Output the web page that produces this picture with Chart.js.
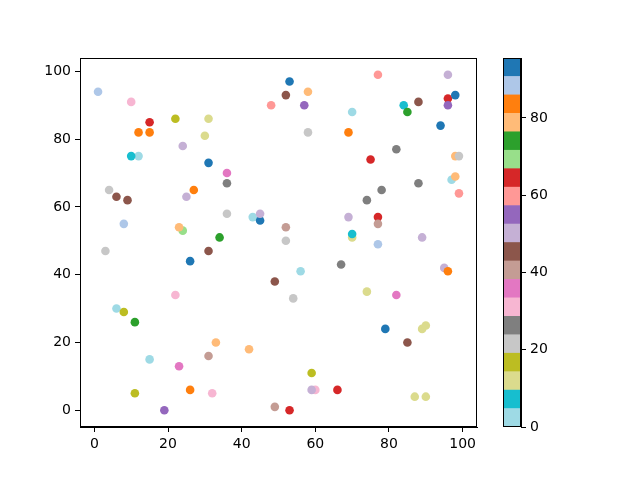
<!DOCTYPE html>
<html>
<head>
<meta charset="utf-8">
<script src="https://cdn.jsdelivr.net/npm/chart.js@4/dist/chart.umd.min.js"></script>
<style>
html,body{margin:0;padding:0;background:#fff;}
#wrap{position:relative;width:640px;height:480px;}
canvas{position:absolute;left:0;top:0;}
</style>
</head>
<body>
<div id="wrap">
<canvas id="main" width="640" height="480"></canvas>
<canvas id="cbar" width="640" height="480"></canvas>
</div>
<script>
const xValues = [1,10,15,12,15,22,31,30,24,12,10,31,53,58,52,48,57,58,36,36,77,96,96,98,96,88,84,85,70,94,69,82,75,98,99,97,98,88,4,6,9,27,25,8,24,23,3,31,26,22,6,8,36,43,45,45,52,52,34,56,49,54,67,78,74,99,69,77,77,70,70,77,89,95,96,74,82,11,15,23,31,33,11,26,32,19,42,59,60,59,66,49,53,79,89,90,85,87,90];
const yValues = [94,91,85,82,82,86,86,81,78,75,75,73,97,94,93,90,90,82,70,67,99,99,92,93,90,91,90,88,88,84,82,77,74,75,75,68,69,67,65,63,62,65,63,55,53,54,47,47,44,34,30,29,58,57,56,58,54,50,51,41,38,33,43,65,62,64,57,57,55,51,52,49,51,42,41,35,34,26,15,13,16,20,5,6,5,0,18,11,6,6,6,1,0,24,24,25,20,4,4];
const colorValues = [88,31,64,84,84,16,12,12,50,2,7,93,93,79,45,60,55,21,36,26,60,50,64,93,55,45,7,74,2,93,84,26,64,79,21,2,79,26,21,45,45,84,50,88,69,79,21,45,93,31,2,16,21,2,93,50,40,21,74,2,45,21,26,26,26,60,50,64,40,12,7,88,50,50,84,12,36,74,2,36,40,79,16,84,31,55,79,16,31,50,64,40,64,93,12,12,45,12,12];
const xTicks = [0,20,40,60,80,100];
const yTicks = [0,20,40,60,80,100];
const colorTicks = [0,20,40,60,80];
const colorMin = 0, colorMax = 95.5;
const tab20r = ['#9edae5','#17becf','#dbdb8d','#bcbd22','#c7c7c7','#7f7f7f','#f7b6d2','#e377c2','#c49c94','#8c564b','#c5b0d5','#9467bd','#ff9896','#d62728','#98df8a','#2ca02c','#ffbb78','#ff7f0e','#aec7e8','#1f77b4'];

function colorFor(c){
  let b = Math.floor((c - colorMin) / (colorMax - colorMin) * tab20r.length);
  b = Math.max(0, Math.min(tab20r.length - 1, b));
  return tab20r[b];
}

const FONT = {family:'DejaVu Sans', size:14};
const frame = {
  id:'frame',
  afterDraw(chart){
    const a = chart.chartArea, ctx = chart.ctx;
    ctx.save();
    ctx.strokeStyle = '#000';
    ctx.lineWidth = 1;
    ctx.strokeRect(Math.round(a.left)+0.5, Math.round(a.top)+0.5, Math.round(a.right-a.left)-1, Math.round(a.bottom-a.top)-1);
    ctx.restore();
  }
};
function axisCommon(ticks){
  return {
    afterBuildTicks: s => { s.ticks = ticks.map(v => ({value:v})); },
    grid:{display:true, drawOnChartArea:false, drawTicks:true, tickLength:5, tickColor:'#000', tickWidth:1},
    border:{display:true, color:'#000', width:1},
    ticks:{color:'#000', font:FONT, padding:4, maxRotation:0, autoSkip:false}
  };
}

new Chart(document.getElementById('main'), {
  type:'scatter',
  data:{datasets:[{
    data: xValues.map((x,i) => ({x:x, y:yValues[i]})),
    pointBackgroundColor: colorValues.map(colorFor),
    pointBorderWidth:0,
    pointRadius:4.3,
    pointHoverRadius:4.3
  }]},
  options:{
    responsive:false, animation:false, events:[],
    plugins:{legend:{display:false}, tooltip:{enabled:false}},
    layout:{padding:{left:0, top:58, right:163, bottom:0}},
    scales:{
      x:Object.assign({type:'linear', min:-3.9, max:103.9, afterFit: s => { s.height = 53; }}, axisCommon(xTicks)),
      y:Object.assign({type:'linear', min:-4.95, max:103.95, afterFit: s => { s.width = 80; }}, axisCommon(yTicks))
    }
  },
  plugins:[frame]
});

const bandSize = (colorMax - colorMin) / tab20r.length;
new Chart(document.getElementById('cbar'), {
  type:'bar',
  data:{
    labels:['c'],
    datasets: tab20r.map(col => ({data:[bandSize], backgroundColor:col, borderWidth:0, barPercentage:1, categoryPercentage:1}))
  },
  options:{
    responsive:false, animation:false, events:[],
    plugins:{legend:{display:false}, tooltip:{enabled:false}},
    layout:{padding:{left:503, top:58, right:79, bottom:53}},
    scales:{
      x:{stacked:true, display:false},
      y:Object.assign({stacked:true, position:'right', min:colorMin, max:colorMax, afterFit: s => { s.width = 40; }}, axisCommon(colorTicks))
    }
  },
  plugins:[frame]
});
</script>
</body>
</html>
